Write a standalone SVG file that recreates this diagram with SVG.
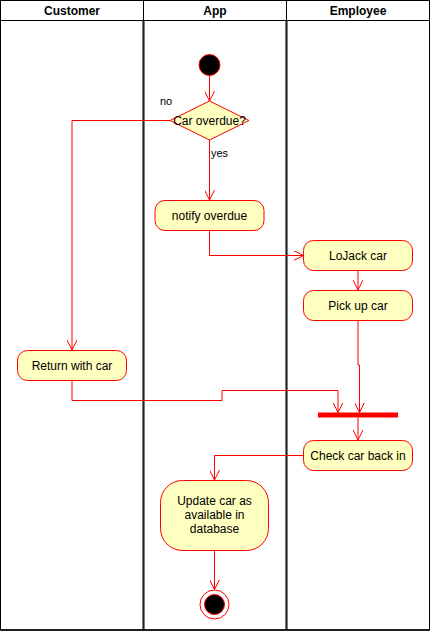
<svg xmlns="http://www.w3.org/2000/svg" width="431" height="631" viewBox="0 0 431 631">
<style>
.lane{fill:#fff;stroke:#000;stroke-width:1}
.div{stroke:#222;stroke-width:2.2;fill:none}
.hdr{font-family:"Liberation Sans",Arial,sans-serif;font-size:12px;font-weight:bold;fill:#000;text-anchor:middle}
.act{fill:#FFFFC0;stroke:#FF0000;stroke-width:1}
.t{font-family:"Liberation Sans",Arial,sans-serif;font-size:12px;fill:#000;text-anchor:middle}
.lbl{font-family:"Liberation Sans",Arial,sans-serif;font-size:11px;fill:#000}
.c{fill:none;stroke:#FF0000;stroke-width:1}
</style>
<defs>
<marker id="arr" viewBox="0 0 10 10" refX="10" refY="5" markerWidth="10" markerHeight="10" markerUnits="userSpaceOnUse" orient="auto">
<path d="M0,0 L10,5 L0,10" fill="none" stroke="#FF0000" stroke-width="1"/>
</marker>
</defs>
<g id="lanes">
<rect class="lane" x="0.5" y="0.5" width="143" height="629.5"/>
<rect class="lane" x="143.5" y="0.5" width="143" height="629.5"/>
<rect class="lane" x="286.5" y="0.5" width="143" height="629.5"/>
<line x1="0.5" y1="20.5" x2="429.5" y2="20.5" stroke="#000" stroke-width="1"/>
<line class="div" x1="143.5" y1="20.5" x2="143.5" y2="630"/>
<line class="div" x1="286.5" y1="20.5" x2="286.5" y2="630"/>
<line x1="0.5" y1="630" x2="429.5" y2="630" stroke="#000" stroke-width="1.5"/>
<text class="hdr" x="72" y="15">Customer</text>
<text class="hdr" x="215" y="15">App</text>
<text class="hdr" x="358" y="15">Employee</text>
</g>
<g id="connectors">
<path class="c" d="M209.5,76 L209.5,101" marker-end="url(#arr)"/>
<path class="c" d="M170,120.5 L72,120.5 L72,350" marker-end="url(#arr)"/>
<path class="c" d="M209.5,140 L209.5,200" marker-end="url(#arr)"/>
<path class="c" d="M209.5,230.5 L209.5,255.5 L303.5,255.5" marker-end="url(#arr)"/>
<path class="c" d="M358,270 L358,290" marker-end="url(#arr)"/>
<path class="c" d="M72,380 L72,400.5 L222,400.5 L222,390.5 L338,390.5 L338,412.5" marker-end="url(#arr)"/>
<path class="c" d="M358,320 L358,365 L359.5,365 L359.5,412.5" marker-end="url(#arr)"/>
<path class="c" d="M358,417.5 L358,440" marker-end="url(#arr)"/>
<path class="c" d="M303.5,455.5 L214.5,455.5 L214.5,480" marker-end="url(#arr)"/>
<path class="c" d="M214.5,550 L214.5,589.5" marker-end="url(#arr)"/>
<text class="lbl" x="160" y="105">no</text>
<text class="lbl" x="211" y="157">yes</text>
</g>
<g id="start">
<circle cx="209.5" cy="65" r="10.5" fill="#000" stroke="#FF0000" stroke-width="1"/>
</g>
<g id="decision">
<polygon class="act" points="209.5,101 249,120.5 209.5,140 170,120.5"/>
<text class="t" x="209.5" y="124.5">Car overdue?</text>
</g>
<g id="notify">
<rect class="act" x="155" y="200.5" width="109" height="30" rx="10"/>
<text class="t" x="209.5" y="219.5">notify overdue</text>
</g>
<g id="lojack">
<rect class="act" x="303.5" y="240.5" width="109" height="30" rx="10"/>
<text class="t" x="358" y="259.5">LoJack car</text>
</g>
<g id="pickup">
<rect class="act" x="303.5" y="290.5" width="109" height="30" rx="10"/>
<text class="t" x="358" y="309.5">Pick up car</text>
</g>
<g id="return">
<rect class="act" x="17.5" y="350.5" width="109" height="30" rx="10"/>
<text class="t" x="72" y="369.5">Return with car</text>
</g>
<g id="join">
<rect x="318" y="412.5" width="80" height="5" fill="#FF0000"/>
</g>
<g id="checkin">
<rect class="act" x="303.5" y="440.5" width="109" height="30" rx="10"/>
<text class="t" x="358" y="459.5">Check car back in</text>
</g>
<g id="update">
<rect class="act" x="160.5" y="480.5" width="108" height="70" rx="22"/>
<text class="t" x="214.5" y="505">Update car as</text>
<text class="t" x="214.5" y="519">available in</text>
<text class="t" x="214.5" y="533">database</text>
</g>
<g id="end">
<circle cx="214.5" cy="604.5" r="14.5" fill="#fff" stroke="#FF0000" stroke-width="1"/>
<circle cx="214.5" cy="604.5" r="10" fill="#000" stroke="#FF0000" stroke-width="1"/>
</g>
</svg>
